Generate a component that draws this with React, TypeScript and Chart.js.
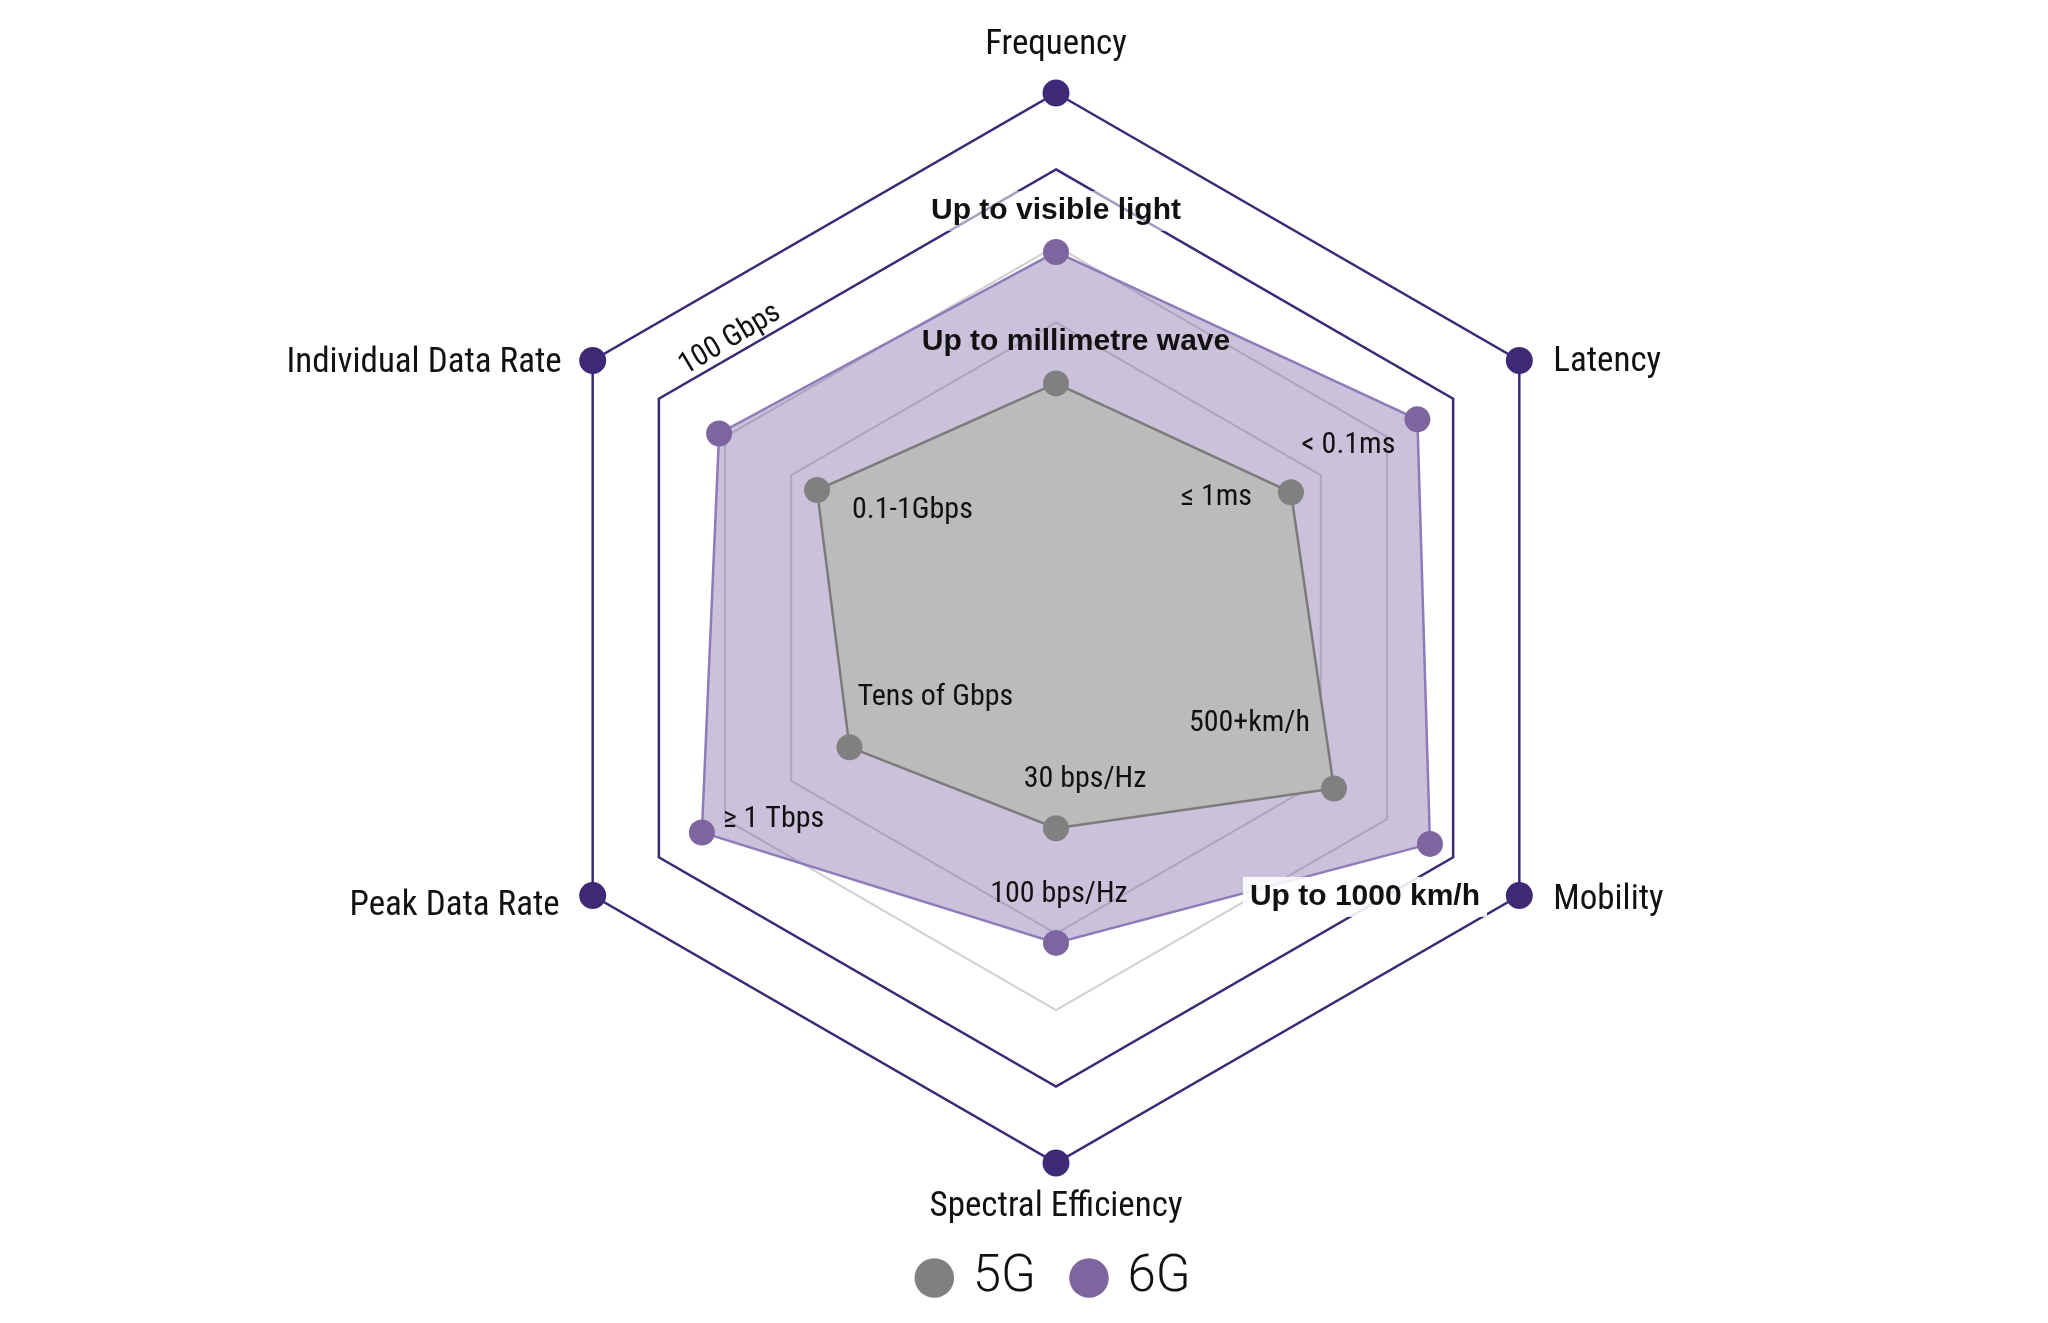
import { useEffect, useRef } from "react";
import { Chart, registerables } from "chart.js";

Chart.register(...registerables);

// axes, clockwise from the top
const axes = [
  "Frequency",
  "Latency",
  "Mobility",
  "Spectral Efficiency",
  "Peak Data Rate",
  "Individual Data Rate",
];
const values5G = [3.2, 3.55, 4.2, 2.62, 3.12, 3.61];
const values6G = [4.92, 5.46, 5.65, 4.12, 5.35, 5.09];
const outerRing = [7, 7, 7, 7, 7, 7];
const notes5G = [
  "Up to millimetre wave",
  "≤ 1ms",
  "500+km/h",
  "30 bps/Hz",
  "Tens of Gbps",
  "0.1-1Gbps",
];
const notes6G = [
  "Up to visible light",
  "< 0.1ms",
  "Up to 1000 km/h",
  "100 bps/Hz",
  "≥ 1 Tbps",
  "100 Gbps",
];

const NARROW = '"Liberation Sans Narrow", "Arial Narrow", "Roboto Condensed", "DejaVu Sans Condensed", sans-serif';
const BOLD = '"Liberation Sans", Arial, sans-serif';
const DARK = "#3d2975";

// where the text sits next to its point
const axisLayout = [
  { dx: 0, dy: -48, align: "center" },
  { dx: 34, dy: 2, align: "left" },
  { dx: 34, dy: 5, align: "left" },
  { dx: 0, dy: 44, align: "center" },
  { dx: -33, dy: 11, align: "right" },
  { dx: -31, dy: 3, align: "right" },
];
const layout5G: any[] = [
  { dx: 20, dy: -42, align: "center", bold: true },
  { dx: -39, dy: 5, align: "right" },
  { dx: -24, dy: -65, align: "right" },
  { dx: 29, dy: -49, align: "center" },
  { dx: 8, dy: -50, align: "left" },
  { dx: 35, dy: 20, align: "left" },
];
const layout6G: any[] = [
  { dx: 0, dy: -41, align: "center", bold: true, bg: "rgba(255,255,255,0.55)" },
  { dx: -22, dy: 26, align: "right" },
  { dx: -65, dy: 53, align: "center", bold: true, bg: "rgba(255,255,255,0.88)" },
  { dx: 3, dy: -48, align: "center" },
  { dx: 21, dy: -13, align: "left" },
  { dx: 11, dy: -94, align: "center", rotate: -31 },
];

const textPlugin = {
  id: "radarText",
  afterDatasetsDraw(chart: any) {
    const r = chart.scales.r;
    const ctx = chart.ctx;
    ctx.save();
    ctx.textBaseline = "middle";
    ctx.fillStyle = "#111";

    axes.forEach((label, i) => {
      const p = r.getPointPositionForValue(i, 7);
      const o = axisLayout[i];
      ctx.font = `35px ${NARROW}`;
      ctx.textAlign = o.align;
      ctx.fillText(label, p.x + o.dx, p.y + o.dy);
    });

    const drawNotes = (notes: string[], values: number[], layout: any[]) => {
      notes.forEach((text, i) => {
        const p = r.getPointPositionForValue(i, values[i]);
        const o = layout[i];
        ctx.save();
        ctx.translate(p.x + o.dx, p.y + o.dy);
        if (o.rotate) ctx.rotate((o.rotate * Math.PI) / 180);
        ctx.font = o.bold ? `bold 30px ${BOLD}` : `30px ${NARROW}`;
        ctx.textAlign = o.align;
        if (o.bg) {
          const w = ctx.measureText(text).width;
          const x0 = o.align === "center" ? -w / 2 : o.align === "right" ? -w : 0;
          ctx.fillStyle = o.bg;
          ctx.fillRect(x0 - 7, -20, w + 14, 40);
        }
        ctx.fillStyle = "#111";
        ctx.fillText(text, 0, 0);
        ctx.restore();
      });
    };
    drawNotes(notes6G, values6G, layout6G);
    drawNotes(notes5G, values5G, layout5G);
    ctx.restore();
  },
};

const ringColor = (v: number) =>
  v >= 6 ? DARK : v >= 4 ? "#cfcfcf" : "rgba(0,0,0,0)";

const App = () => {
  const canvasRef = useRef<HTMLCanvasElement | null>(null);
  const chartRef = useRef<Chart | null>(null);

  useEffect(() => {
    if (!canvasRef.current) return;
    if (chartRef.current) chartRef.current.destroy();

    chartRef.current = new Chart(canvasRef.current, {
      type: "radar",
      data: {
        labels: axes,
        datasets: [
          {
            label: "5G",
            data: values5G,
            fill: true,
            backgroundColor: "#bbbbbb",
            borderColor: "#7b7b7b",
            borderWidth: 2.5,
            pointRadius: 13,
            pointBackgroundColor: "#7f807f",
            pointBorderWidth: 0,
          },
          {
            label: "6G",
            data: values6G,
            fill: true,
            backgroundColor: "rgba(124,99,163,0.4)",
            borderColor: "#8d7bba",
            borderWidth: 2.5,
            pointRadius: 13,
            pointBackgroundColor: "#7e65a0",
            pointBorderWidth: 0,
          },
          {
            label: "outer",
            data: outerRing,
            fill: false,
            backgroundColor: "rgba(0,0,0,0)",
            borderWidth: 0,
            pointRadius: 13.5,
            pointBackgroundColor: DARK,
            pointBorderWidth: 0,
          },
        ],
      },
      options: {
        animation: false,
        responsive: true,
        maintainAspectRatio: false,
        events: [],
        layout: { padding: { top: 43.5, right: 457, bottom: 9.5, left: 521 } },
        scales: {
          r: {
            min: 0,
            max: 7,
            ticks: { display: false, stepSize: 1 },
            pointLabels: { display: false },
            angleLines: { display: false },
            grid: {
              circular: false,
              color: (c: any) => ringColor(c.tick ? c.tick.value : 0),
              lineWidth: (c: any) => ((c.tick ? c.tick.value : 0) >= 6 ? 2.5 : 2),
            },
          },
        },
        plugins: {
          tooltip: { enabled: false },
          legend: {
            position: "bottom",
            labels: {
              usePointStyle: true,
              pointStyle: "circle",
              boxWidth: 26,
              boxHeight: 28,
              padding: 40,
              color: "#111",
              font: { family: "Roboto, sans-serif", size: 51, weight: "300" },
              filter: (item: any) => item.datasetIndex < 2,
            },
          },
        },
      },
      plugins: [textPlugin],
    });

    return () => {
      if (chartRef.current) {
        chartRef.current.destroy();
        chartRef.current = null;
      }
    };
  }, []);

  return (
    <div
      style={{
        position: "fixed",
        left: 0,
        top: 0,
        width: "100vw",
        height: "100vh",
        background: "#fff",
      }}
    >
      <canvas ref={canvasRef} />
    </div>
  );
};

export default App;
